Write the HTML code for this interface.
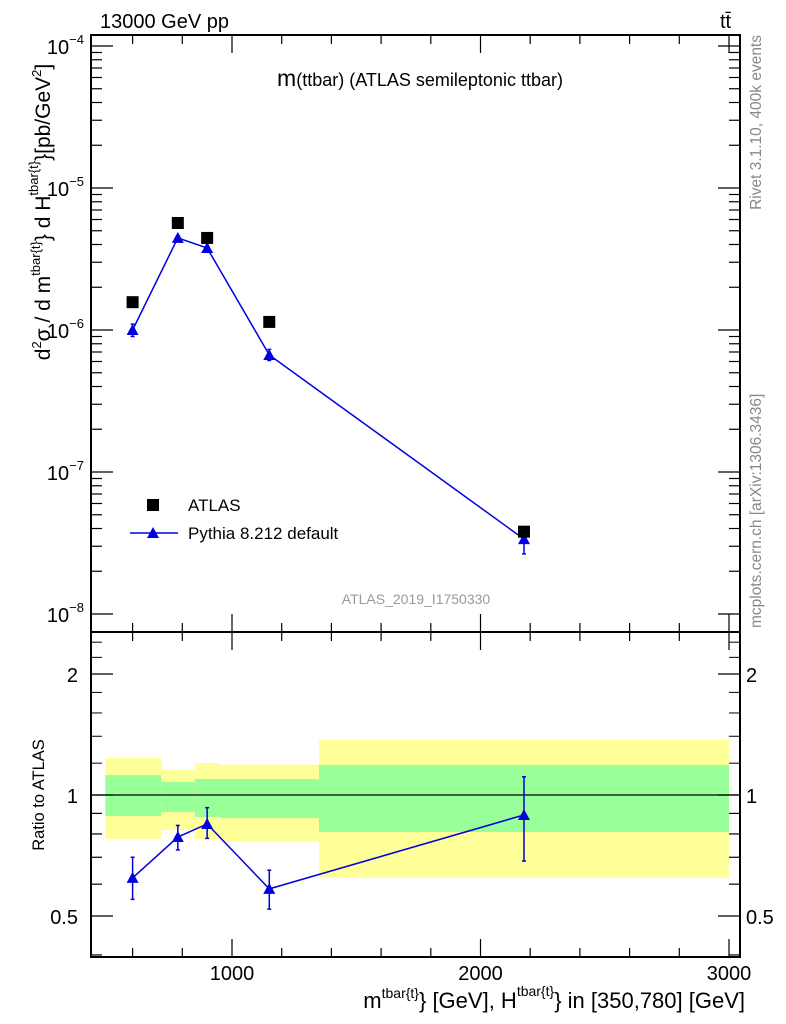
<!DOCTYPE html>
<html><head><meta charset="utf-8"><style>
body{margin:0;background:#fff}
svg{font-family:"Liberation Sans",sans-serif;display:block}
</style></head><body>
<svg id="c" width="786" height="1024" viewBox="0 0 786 1024">
<text x="100" y="28" font-size="20">13000 GeV pp</text>
<text x="720" y="28" font-size="20">tt̄</text>
<text x="420" y="86" font-size="18" text-anchor="middle"><tspan font-size="23">m</tspan>(ttbar) (ATLAS semileptonic ttbar)</text>
<text transform="translate(761,35) rotate(-90)" text-anchor="end" font-size="15.5" fill="#888">Rivet 3.1.10,  400k events</text>
<text transform="translate(761,628) rotate(-90)" font-size="15.5" fill="#888">mcplots.cern.ch [arXiv:1306.3436]</text>
<text x="416" y="604" font-size="14" fill="#999" text-anchor="middle">ATLAS_2019_I1750330</text>
<text transform="translate(50,212) rotate(-90)" text-anchor="middle" font-size="21">d<tspan font-size="13" dy="-9">2</tspan><tspan dy="9">σ / d m</tspan><tspan font-size="13" dy="-10">tbar{t}</tspan><tspan dy="10">} d H</tspan><tspan font-size="13" dy="-12">tbar{t}</tspan><tspan dy="12">}[pb/GeV</tspan><tspan font-size="13" dy="-9">2</tspan><tspan dy="9">]</tspan></text>
<text transform="translate(44,795) rotate(-90)" text-anchor="middle" font-size="16.5">Ratio to ATLAS</text>
<text x="745" y="1008" text-anchor="end" font-size="22">m<tspan font-size="14" dy="-10">tbar{t}</tspan><tspan dy="10">} [GeV], H</tspan><tspan font-size="14" dy="-12">tbar{t}</tspan><tspan dy="12">} in [350,780] [GeV]</tspan></text>
<g>
<rect x="147" y="499" width="12" height="12" fill="#000"/>
<text x="188" y="511" font-size="17">ATLAS</text>
<line x1="130" y1="533" x2="178" y2="533" stroke="#0000e0" stroke-width="1.5"/>
<polygon points="153,527 147,538 159,538" fill="#0000e0"/>
<text x="188" y="539" font-size="17">Pythia 8.212 default</text>
</g>
<g id="g"></g>
</svg>
<script>
const binEdges=[490,715,850,950,1350,3000];
const xPts=[600,782,900,1150,2175];
const atlasVals=[1.57e-6,5.67e-6,4.45e-6,1.14e-6,3.8e-8];
const mcVals=[1.0e-6,4.45e-6,3.78e-6,6.67e-7,3.37e-8];
const mcErrLo=[0.9e-6,4.3e-6,3.65e-6,6.1e-7,2.65e-8];
const mcErrHi=[1.1e-6,4.6e-6,3.92e-6,7.3e-7,4.1e-8];
const yellowHi=[1.236,1.154,1.20,1.19,1.37];
const yellowLo=[0.777,0.818,0.777,0.764,0.622];
const greenHi=[1.121,1.077,1.096,1.096,1.188];
const greenLo=[0.887,0.907,0.882,0.877,0.809];
const ratioVals=[0.622,0.786,0.847,0.584,0.892];
const ratioErrHi=[0.70,0.84,0.93,0.65,1.11];
const ratioErrLo=[0.55,0.73,0.78,0.52,0.685];
const xTicks=[1000,2000,3000];
const yDecades=[-8,-7,-6,-5,-4];
const ratioTicks=[0.5,1,2];

const NS="http://www.w3.org/2000/svg";
const g=document.getElementById('g');
const L=91,R=740,T=35,M=632,B=957;
const X=v=>232+(v-1000)*0.2485;
const Y=v=>330-(Math.log10(v)+6)*142;
const RY=v=>795-Math.log2(v)*121;
function mk(t,a){const e=document.createElementNS(NS,t);for(const k in a)e.setAttribute(k,a[k]);g.appendChild(e);return e;}
function tri(x,y){return `${x},${y-6} ${x-6},${y+5} ${x+6},${y+5}`;}

for(let i=0;i<5;i++){
 const x1=X(binEdges[i]),x2=X(binEdges[i+1]);
 let e=mk('rect',{x:x1,y:RY(yellowHi[i]),width:x2-x1,height:RY(yellowLo[i])-RY(yellowHi[i]),fill:'#ffff99'});
 
 
 e=mk('rect',{x:x1,y:RY(greenHi[i]),width:x2-x1,height:RY(greenLo[i])-RY(greenHi[i]),fill:'#99ff99'});
 
 
}
let ln=mk('line',{x1:L,x2:R,y1:RY(1),y2:RY(1),stroke:'#000','stroke-width':1.2});



for(const [y1,y2] of [[T,M],[M,B]]){
 const f=mk('rect',{x:L,y:y1,width:R-L,height:y2-y1,fill:'none',stroke:'#000','stroke-width':2});
 
 
}
for(let v=600;v<=3000;v+=200){
 const big=v%1000===0,len=big?18:9,x=X(v);
 for(const [yb,dir] of [[T,1],[M,-1],[M,1],[B,-1]]) mk('line',{x1:x,x2:x,y1:yb,y2:yb+dir*len,stroke:'#000','stroke-width':1.2});
}
xTicks.forEach(v=>{const t=mk('text',{x:X(v),y:980,'font-size':20,'text-anchor':'middle'});t.textContent=v;
 });
yDecades.forEach(d=>{
 for(let m=1;m<10;m++){const y=Y(m*Math.pow(10,d));if(y<T||y>M)continue;
  const len=m===1?22:11;
  mk('line',{x1:L,x2:L+len,y1:y,y2:y,stroke:'#000','stroke-width':1.2});
  mk('line',{x1:R,x2:R-len,y1:y,y2:y,stroke:'#000','stroke-width':1.2});}
 const t=mk('text',{x:84,y:Y(Math.pow(10,d))+8,'font-size':20,'text-anchor':'end'});
 t.innerHTML='10<tspan font-size="13" dy="-10">\u2212'+(-d)+'</tspan>';
 
});
[0.4,0.5,0.6,0.7,0.8,0.9,1,2].forEach(v=>{const y=RY(v);if(y>B||y<M)return;
 const len=(v===0.5||v===1||v===2)?22:11;
 mk('line',{x1:L,x2:L+len,y1:y,y2:y,stroke:'#000','stroke-width':1.2});
 mk('line',{x1:R,x2:R-len,y1:y,y2:y,stroke:'#000','stroke-width':1.2});});
[1.2,1.4,1.6,1.8,2.2,2.4].forEach(v=>{const y=RY(v);mk('line',{x1:L,x2:L+11,y1:y,y2:y,stroke:'#000'});mk('line',{x1:R,x2:R-11,y1:y,y2:y,stroke:'#000'});});
ratioTicks.forEach(v=>{
 let t=mk('text',{x:78,y:RY(v)+8,'font-size':20,'text-anchor':'end'});t.textContent=v;
 
 t=mk('text',{x:746,y:RY(v)+8,'font-size':20});t.textContent=v;
 
});
let p=mk('polyline',{points:xPts.map((x,i)=>X(x)+','+Y(mcVals[i])).join(' '),fill:'none',stroke:'#0000e0','stroke-width':1.5});

xPts.forEach((x,i)=>{
 const cx=X(x);
 let e=mk('line',{x1:cx,x2:cx,y1:Y(mcErrHi[i]),y2:Y(mcErrLo[i]),stroke:'#0000e0','stroke-width':1.5});
 
 mk('line',{x1:cx-2,x2:cx+2,y1:Y(mcErrHi[i]),y2:Y(mcErrHi[i]),stroke:'#0000e0','stroke-width':1.5});
 mk('line',{x1:cx-2,x2:cx+2,y1:Y(mcErrLo[i]),y2:Y(mcErrLo[i]),stroke:'#0000e0','stroke-width':1.5});
 e=mk('polygon',{points:tri(cx,Y(mcVals[i])),fill:'#0000e0'});
 
 e=mk('rect',{x:cx-6,y:Y(atlasVals[i])-6,width:12,height:12,fill:'#000'});
 
});
p=mk('polyline',{points:xPts.map((x,i)=>X(x)+','+RY(ratioVals[i])).join(' '),fill:'none',stroke:'#0000e0','stroke-width':1.5});

xPts.forEach((x,i)=>{
 const cx=X(x);
 let e=mk('line',{x1:cx,x2:cx,y1:RY(ratioErrHi[i]),y2:RY(ratioErrLo[i]),stroke:'#0000e0','stroke-width':1.5});
 
 mk('line',{x1:cx-2,x2:cx+2,y1:RY(ratioErrHi[i]),y2:RY(ratioErrHi[i]),stroke:'#0000e0','stroke-width':1.5});
 mk('line',{x1:cx-2,x2:cx+2,y1:RY(ratioErrLo[i]),y2:RY(ratioErrLo[i]),stroke:'#0000e0','stroke-width':1.5});
 e=mk('polygon',{points:tri(cx,RY(ratioVals[i])),fill:'#0000e0'});
 
});
</script>
</body></html>
